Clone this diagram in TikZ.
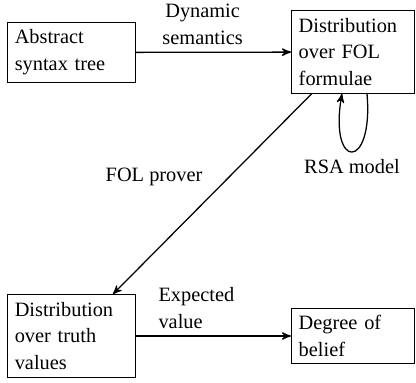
\documentclass[tikz,border=0pt]{standalone}
\usepackage{fontspec}
\setmainfont{Liberation Serif}
\usetikzlibrary{arrows,positioning}

\begin{document}
\begin{tikzpicture}[x=0.4717pt,y=-0.4717pt,>=stealth',semithick,
        every node/.style={font=\fontsize{9.6}{12.7}\selectfont},
        box/.style={draw,text width=#1,align=left}]
                \useasboundingbox (0,0) rectangle (416,383);
                \node[box=53.5pt] (ast) at (71.5,52.5) {Abstract\\syntax tree};
                \node[box=51.2pt] (fol) at (353,52) {Distribution\\over FOL\\formulae};
                \node[box=53.5pt] (truth) at (71.5,336) {Distribution\\over truth\\values};
                \node[box=51.2pt] (belief) at (353,336) {Degree of\\belief};
                \draw[->] (ast) -- node[above,pos=0.43,align=center] {Dynamic\\semantics} (fol);
                \draw[->] (fol) -- node[left=9pt,pos=0.415] {FOL prover} (truth);
                \draw[->] ([xshift=6.6pt]fol.south) to[out=-85,in=-100,looseness=8]
                    node[below] {RSA model} ([xshift=-5.2pt]fol.south);
                \draw[->] (truth) -- node[above,pos=0.39,align=left] {Expected\\value} (belief);
            \end{tikzpicture}
\end{document}
